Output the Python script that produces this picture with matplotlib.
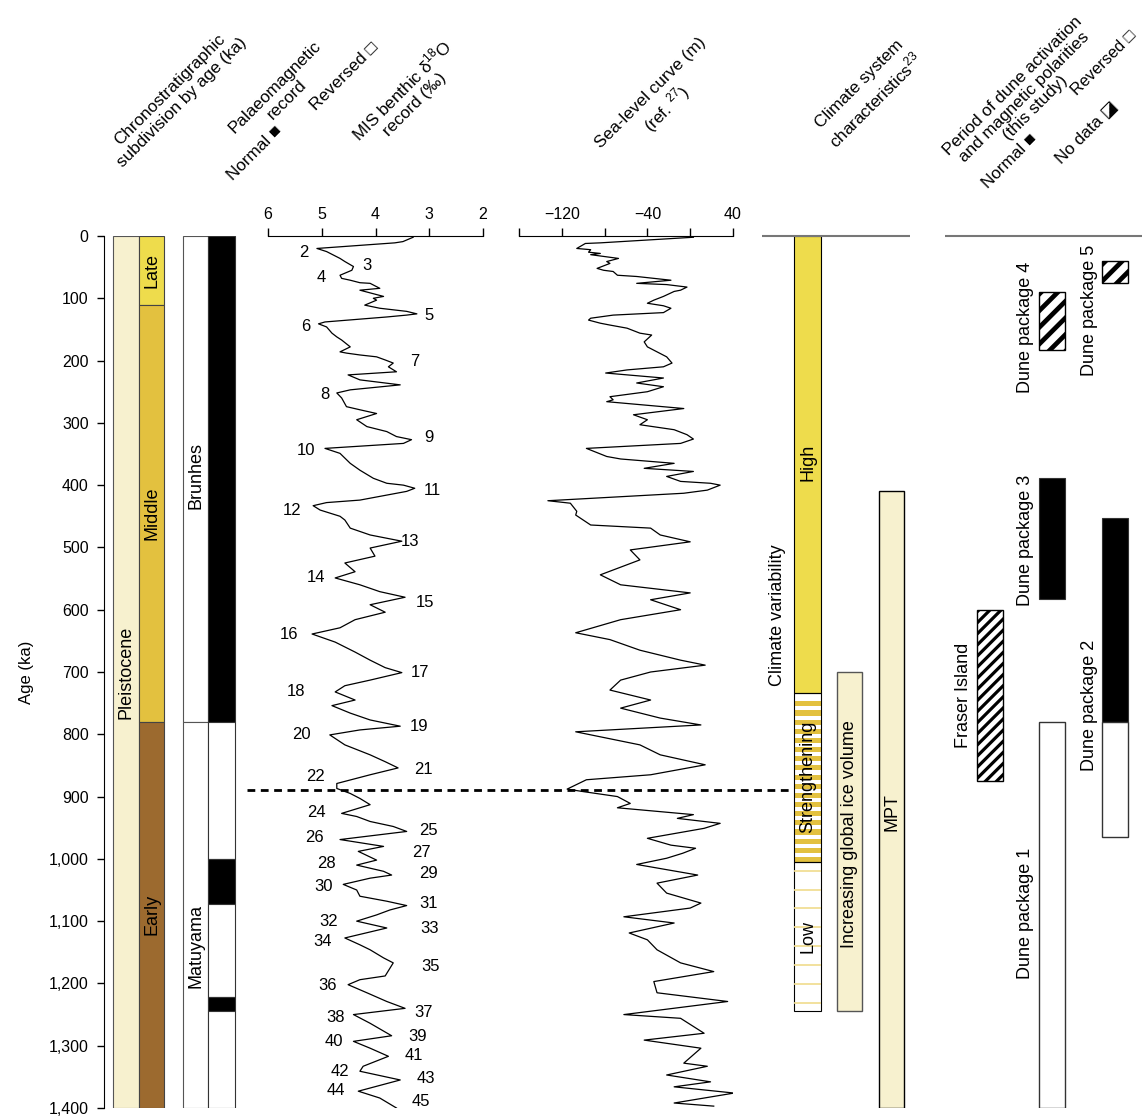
import numpy as np
import matplotlib
matplotlib.use('Agg')
import matplotlib.pyplot as plt

plt.rcParams['font.family'] = ['Liberation Sans', 'DejaVu Sans']
plt.rcParams['mathtext.fontset'] = 'custom'
plt.rcParams['mathtext.rm'] = 'Liberation Sans'
plt.rcParams['hatch.linewidth'] = 3.0

# ---- data ----
age_ticks = list(range(0, 1401, 100))

# benthic d18O record (age ka, permil)
d18_age = [2, 9, 11, 20, 25, 36, 41, 49, 55, 63, 68, 71, 75, 76, 84, 87, 97, 100, 103, 111,
           116, 121, 125, 127, 130, 138, 141, 146, 156, 162, 167, 178, 186, 188, 191, 194, 199,
           204, 210, 218, 223, 231, 239, 247, 252, 260, 274, 279, 285, 295, 306, 314, 322, 327,
           333, 341, 349, 365, 376, 389, 397, 400, 405, 410, 416, 424, 428, 433, 440, 450,
           456, 469, 480, 490, 501, 514, 525, 539, 549, 560, 571, 580, 592, 604, 616, 629, 639,
           652, 668, 681, 693, 701, 713, 722, 732, 745, 754, 766, 777, 787, 793, 801, 817, 833,
           844, 854, 865, 879, 887, 895, 903, 913, 927, 932, 940, 948, 956, 969, 980, 988, 1002,
           1010, 1020, 1026, 1031, 1041, 1050, 1060, 1068, 1075, 1082, 1090, 1100, 1111, 1127,
           1138, 1146, 1159, 1167, 1188, 1194, 1202, 1215, 1229, 1240, 1250, 1264, 1284, 1293,
           1304, 1317, 1333, 1341, 1355, 1373, 1384, 1400]
d18_val = [3.30, 3.49, 3.64, 5.09, 4.91, 4.66, 4.57, 4.41, 4.44, 4.66, 4.63, 4.47, 4.29, 4.10,
           3.92, 4.29, 3.85, 4.04, 3.98, 4.20, 3.92, 3.42, 3.23, 3.42, 3.79, 4.94, 5.06, 4.91,
           4.81, 4.72, 4.63, 4.47, 4.66, 4.54, 4.29, 3.98, 3.82, 3.67, 3.76, 3.61, 4.51, 4.29,
           3.54, 4.47, 4.72, 4.63, 4.54, 4.29, 3.98, 4.35, 4.16, 3.79, 3.61, 3.33, 3.48, 4.94,
           4.66, 4.47, 4.29, 4.04, 3.79, 3.48, 3.27, 3.42, 3.79, 4.29, 4.91, 5.16, 5.03, 4.66,
           4.57, 4.47, 4.10, 3.51, 4.10, 4.01, 4.57, 4.38, 4.75, 4.29, 3.92, 3.45, 4.10, 3.82,
           4.38, 4.66, 5.18, 4.75, 4.38, 4.10, 3.82, 3.51, 4.10, 4.57, 4.75, 4.38, 4.81, 4.47,
           4.10, 3.54, 4.29, 4.85, 4.57, 4.10, 3.82, 3.58, 4.10, 4.72, 4.72, 4.47, 4.29, 4.10,
           4.63, 4.35, 4.10, 3.67, 3.42, 4.66, 3.85, 4.32, 3.98, 4.35, 3.85, 3.70, 4.10, 4.60,
           4.35, 4.29, 3.79, 3.42, 3.73, 3.98, 4.35, 3.79, 4.57, 4.29, 4.10, 3.85, 3.67, 3.82,
           4.29, 4.51, 4.16, 3.79, 3.45, 4.41, 4.10, 3.70, 4.41, 4.10, 3.76, 4.23, 4.29, 3.54,
           4.32, 3.92, 3.61]

# marine isotope stage labels (number, d18O position, age)
mis_num = [2, 3, 4, 5, 6, 7, 8, 9, 10, 11, 12, 13, 14, 15, 16, 17, 18, 19, 20, 21, 22,
           24, 25, 26, 27, 28, 29, 30, 31, 32, 33, 34, 35, 36, 37, 38, 39, 40, 41, 42, 43, 44, 45]
mis_x = [5.33, 4.16, 5.01, 3.00, 5.29, 3.27, 4.94, 3.00, 5.29, 2.95, 5.55, 3.36, 5.11, 3.08,
         5.61, 3.17, 5.48, 3.19, 5.37, 3.10, 5.11, 5.09, 3.02, 5.14, 3.15, 4.92, 3.02, 4.96,
         3.02, 4.87, 2.99, 4.98, 2.97, 4.90, 3.10, 4.75, 3.21, 4.77, 3.28, 4.66, 3.06, 4.73, 3.15]
mis_age = [26, 47, 66, 128, 146, 202, 255, 323, 344, 408, 440, 491, 549, 588, 640, 701, 732,
           788, 801, 856, 868, 925, 955, 966, 989, 1008, 1023, 1045, 1072, 1100, 1112, 1133,
           1173, 1204, 1246, 1255, 1286, 1294, 1316, 1342, 1353, 1372, 1390]

# sea-level curve (age ka, m)
sl_age = [2, 11, 12, 20, 22, 26, 28, 30, 36, 41, 44, 52, 55, 57, 63, 65, 71, 76, 78, 82, 87,
          89, 97, 103, 108, 112, 116, 123, 127, 132, 135, 140, 143, 148, 156, 159, 170, 178,
          186, 194, 204, 210, 215, 220, 228, 236, 242, 250, 258, 263, 266, 277, 287, 295, 303,
          311, 319, 326, 333, 341, 354, 358, 365, 373, 378, 386, 394, 397, 400, 408, 413, 425,
          429, 442, 448, 464, 469, 480, 491, 504, 520, 544, 560, 573, 584, 600, 616, 637, 648,
          665, 681, 689, 700, 713, 729, 745, 758, 774, 785, 796, 817, 833, 849, 865, 873, 888,
          892, 900, 911, 918, 929, 935, 943, 951, 967, 978, 983, 991, 999, 1009, 1026, 1039,
          1055, 1071, 1079, 1093, 1103, 1119, 1130, 1146, 1167, 1181, 1197, 1215, 1229, 1250,
          1256, 1280, 1291, 1304, 1328, 1333, 1347, 1358, 1366, 1376, 1384, 1392, 1397]
sl_val = [3, -84, -98, -106, -93, -95, -84, -93, -67, -78, -75, -87, -81, -72, -68, -50, -18,
          -50, -22, -3, -9, -15, -25, -34, -40, -25, -18, -25, -72, -93, -95, -84, -75, -59,
          -47, -36, -43, -40, -31, -22, -17, -25, -59, -79, -25, -50, -25, -40, -75, -72, -78,
          -6, -53, -40, -47, -15, -3, 3, -9, -97, -78, -65, -15, -43, 3, -22, -9, 19, 28, 16,
          -6, -133, -112, -106, -107, -93, -37, -28, 0, -56, -47, -84, -65, 0, -37, -9, -65,
          -107, -75, -47, -9, 14, -37, -65, -75, -37, -65, -28, 10, -107, -47, -28, 14, -37,
          -97, -115, -100, -68, -56, -68, 3, -12, 28, 13, -40, -18, 5, -7, -22, -50, 7, -31,
          -22, 10, 0, -62, -15, -57, -40, -31, -9, 22, -34, -31, 35, -62, -9, 13, -43, 10, -6,
          16, -22, 19, -15, 41, 13, -15, 22]

# chronostratigraphy
sub_names = ['Late', 'Middle', 'Early']
sub_bounds = [0, 110, 780, 1400]
sub_colors = ['#EEDC4C', '#E3C13F', '#9C6A2F']

# palaeomagnetic record
chron_names = ['Brunhes', 'Matuyama']
chron_bounds = [0, 780, 1400]
chron_label_age = [385, 1140]
pol_bounds = [0, 780, 1000, 1072, 1222, 1244, 1400]
pol_normal = [True, False, True, False, True, False]

# climate system characteristics
clim_names = ['High', 'Strengthening', 'Low']
clim_bounds = [0, 733, 1005, 1245]
clim_label_age = [364, 868, 1125]
ice_range = (700, 1245)
mpt_range = (410, 1400)

# dune packages: (label, segments (start, end, polarity), label age)
# polarity: N normal, R reversed, X no data
dune_pkgs = [
    ('Fraser Island', [(600, 875, 'X')], 737),
    ('Dune package 1', [(780, 1400, 'R')], 1087),
    ('Dune package 2', [(452, 780, 'N'), (780, 965, 'R')], 753),
    ('Dune package 3', [(388, 583, 'N')], 488),
    ('Dune package 4', [(90, 183, 'X')], 146),
    ('Dune package 5', [(40, 76, 'X')], 119),
]
marker_age = 889

# ---- layout (pixels) ----
W, H = 1142, 1117
Y_TOP, Y_BOT = 236, 1108
CREAM = '#F7F1CF'
FS = 13
HFS = 12.3


def band(x0, x1):
    return [x0 / W, 1 - Y_BOT / H, (x1 - x0) / W, (Y_BOT - Y_TOP) / H]


fig = plt.figure(figsize=(W / 100, H / 100), dpi=100)

# age axis
ax_age = fig.add_axes(band(104, 106))
ax_age.set_ylim(1400, 0)
ax_age.set_xticks([])
for s in ['top', 'right', 'bottom']:
    ax_age.spines[s].set_visible(False)
ax_age.set_yticks(age_ticks)
ax_age.set_yticklabels([f'{t:,}' for t in age_ticks], fontsize=11.5)
ax_age.tick_params(axis='y', length=5, width=1, pad=6)
ax_age.patch.set_visible(False)
fig.text(27 / W, 1 - 672 / H, 'Age (ka)', rotation=90, ha='center', va='center', fontsize=12)

# d18O curve
ax_d = fig.add_axes(band(268, 483))
ax_d.set_xlim(6, 2)
ax_d.set_ylim(1400, 0)
ax_d.plot(d18_val, d18_age, color='k', lw=0.9)
for n, xv, av in zip(mis_num, mis_x, mis_age):
    ax_d.text(xv, av, str(n), ha='center', va='center', fontsize=12, clip_on=False)
ax_d.xaxis.tick_top()
ax_d.set_xticks([6, 5, 4, 3, 2])
ax_d.tick_params(axis='x', length=6, width=1, pad=4, labelsize=11.5)
ax_d.set_yticks([])
for s in ['left', 'right', 'bottom']:
    ax_d.spines[s].set_visible(False)
ax_d.patch.set_visible(False)

# sea-level curve
ax_s = fig.add_axes(band(519, 733))
ax_s.set_xlim(-160, 40)
ax_s.set_ylim(1400, 0)
ax_s.plot(sl_val, sl_age, color='k', lw=0.9)
ax_s.xaxis.tick_top()
ax_s.set_xticks([-160, -120, -80, -40, 0, 40])
ax_s.set_xticklabels(['', '\u2212120', '', '\u221240', '', '40'])
ax_s.tick_params(axis='x', length=6, width=1, pad=4, labelsize=11.5)
ax_s.set_yticks([])
for s in ['left', 'right', 'bottom']:
    ax_s.spines[s].set_visible(False)
ax_s.patch.set_visible(False)

# columns
ax = fig.add_axes(band(0, W))
ax.set_xlim(0, W)
ax.set_ylim(1400, 0)
ax.axis('off')
ax.set_zorder(3)


def rect(x0, x1, a0, a1, **kw):
    return ax.bar(x0, a1 - a0, width=x1 - x0, bottom=a0, align='edge', **kw)


def vlabel(x, a, s, **kw):
    ax.text(x, a, s, rotation=90, ha='center', va='center', fontsize=FS, **kw)


# chronostratigraphic column
rect(113, 139, 0, 1400, facecolor=CREAM, edgecolor='#555555', lw=0.8)
vlabel(126, 700, 'Pleistocene')
for i, name in enumerate(sub_names):
    a0, a1 = sub_bounds[i], sub_bounds[i + 1]
    rect(139, 164, a0, a1, facecolor=sub_colors[i], edgecolor='#444444', lw=0.8)
    vlabel(151.5, (a0 + a1) / 2, name)

# palaeomagnetic column
for i, name in enumerate(chron_names):
    rect(183, 208, chron_bounds[i], chron_bounds[i + 1], facecolor='white',
         edgecolor='#555555', lw=0.8)
    vlabel(196, chron_label_age[i], name)
for i, nrm in enumerate(pol_normal):
    rect(208, 235, pol_bounds[i], pol_bounds[i + 1], facecolor='k' if nrm else 'white',
         edgecolor='#333333', lw=0.8)

# climate system column
ax.hlines(0, 762, 910, color='#777777', lw=1.5, clip_on=False)
rect(794, 821, clim_bounds[0], clim_bounds[1], facecolor='#EEDC4C', edgecolor='k', lw=0.8)
for s in np.arange(clim_bounds[1] + 14, clim_bounds[2] - 5, 14.7):
    rect(794, 821, s, s + 8.2, facecolor='#E3C13F', lw=0)
for s in np.arange(clim_bounds[2] + 13.7, clim_bounds[3], 30.5):
    ax.hlines(s, 794, 821, color='#F0DC8C', lw=1.2)
rect(794, 821, clim_bounds[1], clim_bounds[2], facecolor='none', edgecolor='k', lw=0.8)
rect(794, 821, clim_bounds[2], clim_bounds[3], facecolor='none', edgecolor='k', lw=0.8)
for name, a in zip(clim_names, clim_label_age):
    vlabel(807.5, a, name)
vlabel(777, 608, 'Climate variability')
rect(837, 862, ice_range[0], ice_range[1], facecolor=CREAM, edgecolor='#555555', lw=1)
vlabel(849.5, 960, 'Increasing global ice volume')
rect(879, 904, mpt_range[0], mpt_range[1], facecolor=CREAM, edgecolor='k', lw=1)
vlabel(891.5, 925, 'MPT')

# dune packages
ax.hlines(0, 945, 1142, color='#777777', lw=1.5, clip_on=False)
col_x = {'Fraser Island': (977, 1003, 963), 'Dune package 1': (1039, 1065, 1025),
         'Dune package 2': (1102, 1128, 1090), 'Dune package 3': (1039, 1065, 1025),
         'Dune package 4': (1039, 1065, 1025), 'Dune package 5': (1102, 1128, 1090)}
for name, segs, la in dune_pkgs:
    x0, x1, lx = col_x[name]
    for a0, a1, p in segs:
        if p == 'N':
            rect(x0, x1, a0, a1, facecolor='k', edgecolor='#333333', lw=0.8)
        elif p == 'R':
            rect(x0, x1, a0, a1, facecolor='white', edgecolor='#333333', lw=1)
        else:
            fraser = name == 'Fraser Island'
            hlw = 2.3 if fraser else 3.4
            with plt.rc_context({'hatch.linewidth': hlw}):
                bars = rect(x0, x1, a0, a1, facecolor='white', edgecolor='k', lw=1,
                            hatch='///' if fraser else '//')
            for b in bars:
                if hasattr(b, 'set_hatch_linewidth'):
                    b.set_hatch_linewidth(hlw)
    vlabel(lx, la, name)

# dashed marker line
ax.hlines(marker_age, 247, 790, colors='k', lw=2, linestyles=(0, (2.8, 2)))


# headers
def header(x, y, s, size=HFS, **kw):
    fig.text(x / W, 1 - y / H, s, rotation=45, rotation_mode='anchor', ha='center',
             va='center', multialignment='center', fontsize=size, **kw)


header(176, 96, 'Chronostratigraphic\nsubdivision by age (ka)')
header(281, 93, 'Palaeomagnetic\nrecord')
header(255, 153, 'Normal \u25A0')
header(344, 76, 'Reversed \u25A1')
header(407, 96, 'MIS benthic \u03B4$^{18}$O\nrecord (\u2030)')
header(660, 102, 'Sea-level curve (m)\n(ref. $^{27}$)')
header(868, 93, 'Climate system\ncharacteristics$^{23}$')
header(1024, 97, 'Period of dune activation\nand magnetic polarities\n(this study)',
       linespacing=1.05)
header(1010, 161, 'Normal \u25A0')
header(1104, 63, 'Reversed \u25A1', size=11.8)
header(1087, 133, 'No data \u25EA')

fig.savefig('out.png', dpi=100)
